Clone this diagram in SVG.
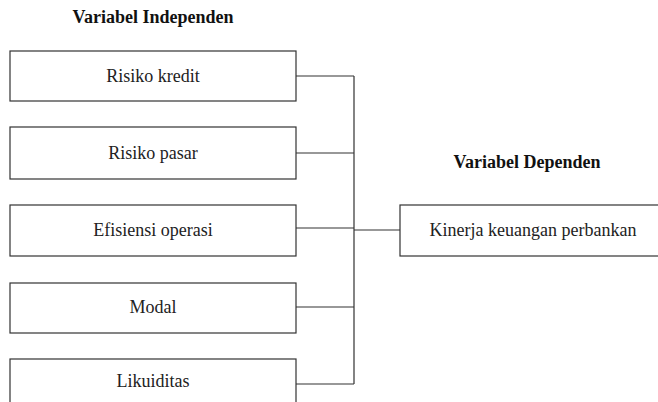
<svg xmlns="http://www.w3.org/2000/svg" width="658" height="402" viewBox="0 0 658 402">
<style>
.box{fill:#fff;stroke:#333;stroke-width:1.2}
.t{font-size:18px;fill:#222;text-anchor:middle}
.h{font-size:18px;font-weight:bold;fill:#111;text-anchor:middle}
.c{fill:none;stroke:#333;stroke-width:1.2}
</style>
<rect width="658" height="402" fill="#fff"/>
<g font-family="Liberation Serif, DejaVu Serif, serif">
<text class="h" x="153" y="23">Variabel Independen</text>
<text class="h" x="527" y="168">Variabel Dependen</text>
<g id="connectors">
<path class="c" d="M296 76H354M296 153H354M296 228H354M296 307H354M296 384H354M354 76V384M354 230H400"/>
</g>
<g id="n1"><rect class="box" x="10" y="51" width="286" height="50"/><text class="t" x="153" y="82">Risiko kredit</text></g>
<g id="n2"><rect class="box" x="10" y="127" width="286" height="52"/><text class="t" x="153" y="159">Risiko pasar</text></g>
<g id="n3"><rect class="box" x="10" y="205" width="286" height="51"/><text class="t" x="153" y="236">Efisiensi operasi</text></g>
<g id="n4"><rect class="box" x="10" y="283" width="286" height="50"/><text class="t" x="153" y="313">Modal</text></g>
<g id="n5"><rect class="box" x="10" y="359" width="286" height="60"/><text class="t" x="153" y="387">Likuiditas</text></g>
<g id="dep"><rect class="box" x="400" y="205" width="266" height="51"/><text class="t" x="533" y="236">Kinerja keuangan perbankan</text></g>
</g>
</svg>
